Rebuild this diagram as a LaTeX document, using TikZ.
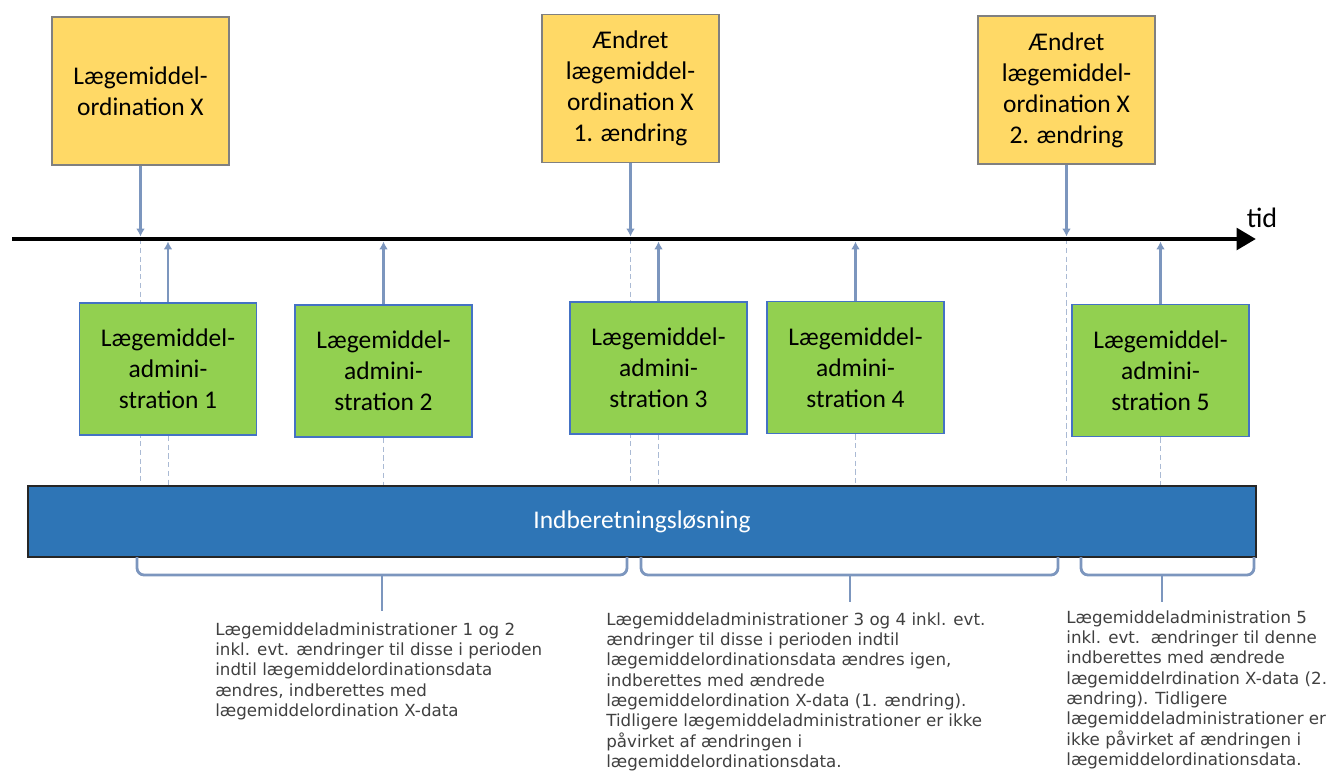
\documentclass[tikz,border=0pt]{standalone}
\usepackage{fontspec}
\setmainfont{Carlito}
\newfontfamily\notefont{DejaVu Sans}
\usetikzlibrary{arrows.meta,positioning,calc}
\tikzset{>=Stealth}
\definecolor{ordfill}{RGB}{255,217,102}
\definecolor{admfill}{RGB}{146,208,80}
\definecolor{admline}{RGB}{68,114,196}
\definecolor{barfill}{RGB}{46,117,182}
\definecolor{linkcol}{RGB}{124,150,190}
\definecolor{guidecol}{RGB}{170,186,212}
\definecolor{notecol}{RGB}{64,64,64}

\begin{document}
\begin{tikzpicture}[x=0.02cm, y=-0.02cm,
    ord/.style={draw=black!50, line width=0.8pt, fill=ordfill, minimum width=3.54cm, minimum height=2.96cm, inner sep=0pt, align=center, font=\fontsize{14.5}{17.6}\selectfont},
    adm/.style={draw=admline, line width=0.9pt, fill=admfill, minimum width=3.54cm, minimum height=2.64cm, inner sep=0pt, align=center, font=\fontsize{14.5}{17.6}\selectfont},
    repbar/.style={draw=black!85, line width=1.2pt, fill=barfill, minimum width=24.56cm, minimum height=1.42cm, inner sep=0pt, text=white, font=\fontsize{14.5}{17.6}\selectfont},
    note/.style={anchor=north west, inner sep=0pt, align=left, text=notecol, font=\notefont\fontsize{9.5}{11.6}\selectfont},
    arr/.style={->, line width=1.3pt, draw=linkcol, >={Latex[length=4.5pt,width=5pt]}, shorten >=0.05cm},
    guide/.style={draw=guidecol, line width=0.5pt, dash pattern=on 3pt off 2pt},
    brace/.style={draw=linkcol, line width=1.6pt, rounded corners=4pt},
    timeline/.style={-{Triangle[length=11pt,width=12pt]}, line width=2.8pt}
  ]
    \useasboundingbox (0,0) rectangle (1336,771);

    \coordinate (t0) at (12,239);
    \coordinate (t1) at (1256,239);
    \node[font=\fontsize{16}{19}\selectfont] (tid) at (1262,218) {tid};

    \node[ord] (ord1) at (140.5,91) {Lægemiddel-\\ordination X};
    \node[ord] (ord2) at (630.5,88.5) {Ændret\\lægemiddel-\\ordination X\\1. ændring};
    \node[ord] (ord3) at (1066.5,90) {Ændret\\lægemiddel-\\ordination X\\2. ændring};

    \node[repbar] (rep) at (642,521.5) {Indberetningsløsning};

    \foreach \o in {ord1,ord2,ord3}
      \draw[guide] (\o.south |- t0) -- (\o.south |- rep.north);

    \node[adm] (adm1) at (168,369) {Lægemiddel-\\admini-\\stration 1};
    \node[adm] (adm2) at (383.5,371) {Lægemiddel-\\admini-\\stration 2};
    \node[adm] (adm3) at (658.5,368) {Lægemiddel-\\admini-\\stration 3};
    \node[adm] (adm4) at (855.5,367.5) {Lægemiddel-\\admini-\\stration 4};
    \node[adm] (adm5) at (1160.5,370.5) {Lægemiddel-\\admini-\\stration 5};

    \foreach \a in {adm1,adm2,adm3,adm4,adm5} {
      \draw[guide] (\a.south) -- (\a.south |- rep.north);
      \draw[arr] (\a.north) -- (\a.north |- t0);
    }
    \foreach \o in {ord1,ord2,ord3}
      \draw[arr] (\o.south) -- (\o.south |- t0);

    \draw[timeline] (t0) -- (t1);

    \node[note] (note1) at (215,622) {Lægemiddeladministrationer 1 og 2\\inkl. evt. ændringer til disse i perioden\\indtil lægemiddelordinationsdata\\ændres, indberettes med\\lægemiddelordination X-data};
    \node[note] (note2) at (606,612) {Lægemiddeladministrationer 3 og 4 inkl. evt.\\ændringer til disse i perioden indtil\\lægemiddelordinationsdata ændres igen,\\indberettes med ændrede\\lægemiddelordination X-data (1. ændring).\\Tidligere lægemiddeladministrationer er ikke\\påvirket af ændringen i\\lægemiddelordinationsdata.};
    \node[note] (note3) at (1066,610) {Lægemiddeladministration 5\\inkl. evt.\ \ ændringer til denne\\indberettes med ændrede\\lægemiddelrdination X-data (2.\\ændring). Tidligere\\lægemiddeladministrationer er\\ikke påvirket af ændringen i\\lægemiddelordinationsdata.};

    \coordinate (br1) at (382,575);
    \coordinate (br2) at (850,575);
    \coordinate (br3) at (1162,575);
    \draw[brace] (137,557) |- (br1) -| (627,557);
    \draw[brace] (641,557) |- (br2) -| (1058,557);
    \draw[brace] (1081,557) |- (br3) -| (1254,557);
    \draw[brace, shorten >=0.22cm] (br1) -- (br1 |- note1.north);
    \draw[brace, shorten >=0.2cm] (br2) -- (br2 |- note2.north);
    \draw[brace, shorten >=0.16cm] (br3) -- (br3 |- note3.north);
  \end{tikzpicture}
\end{document}
